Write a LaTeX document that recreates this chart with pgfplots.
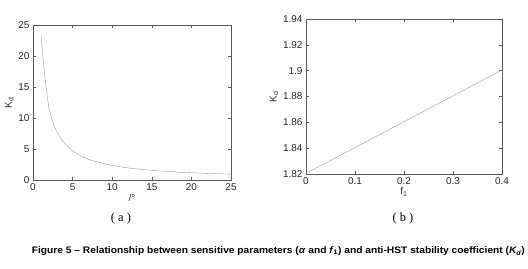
\documentclass[border=0pt]{standalone}
\usepackage{pgfplots}
\pgfplotsset{compat=1.18}
\usepackage{fontspec}
\setmainfont{Liberation Sans}
\newfontfamily\serifcap{Liberation Serif}
\begin{document}
\begin{tikzpicture}[x=1bp,y=1bp]
\path[use as bounding box] (0,0) rectangle (528,268);
\pgfplotsset{
  mystyle/.style={
    scale only axis,
    axis line style={gray!70!black, line width=0.4pt},
    tick style={gray!70!black, line width=0.4pt},
    tick align=inside,
    major tick length=3bp,
    ticklabel style={font=\fontsize{10}{11}\selectfont, text=black!85},
    label style={font=\fontsize{10}{11}\selectfont, text=black!85},
    /pgf/number format/assume math mode=true,
  }
}
\begin{axis}[mystyle,
  at={(33bp,88bp)}, anchor=south west,
  width=198bp, height=155bp,
  xmin=0, xmax=25, ymin=0, ymax=25,
  xtick={0,5,10,15,20,25}, ytick={0,5,10,15,20,25},
  xlabel={/°}, ylabel={K\textsubscript{d}},
  xlabel style={yshift=3bp},
  ylabel style={yshift=-2bp},
]
\addplot[no marks, line width=0.4pt, color=black!40] coordinates {
(1,23.4) (1.5,16.5) (2,11.6) (2.5,9.3) (3,7.8) (3.5,6.7) (4,5.9) (5,4.7) (6,3.9)
(7,3.35) (8,2.95) (9,2.62) (10,2.35) (11,2.13) (12,1.95) (13,1.8) (14,1.68)
(15,1.57) (16,1.47) (17,1.38) (18,1.3) (19,1.23) (20,1.17) (21,1.12) (22,1.07)
(23,1.02) (24,0.98) (25,0.94)
};
\end{axis}
\begin{axis}[mystyle,
  at={(306bp,94bp)}, anchor=south west,
  width=196bp, height=155bp,
  xmin=0, xmax=0.4, ymin=1.82, ymax=1.94,
  xtick={0,0.1,0.2,0.3,0.4}, ytick={1.82,1.84,1.86,1.88,1.9,1.92,1.94},
  yticklabel style={/pgf/number format/fixed, /pgf/number format/precision=2},
  xticklabel style={/pgf/number format/fixed},
  xlabel={f\textsubscript{1}}, ylabel={K\textsubscript{d}},
  xlabel style={yshift=4bp},
  ylabel style={yshift=-2bp},
]
\addplot[no marks, line width=0.4pt, color=black!40] coordinates {(0,1.8205) (0.1,1.8405) (0.2,1.8605) (0.3,1.8805) (0.4,1.9005)};
\end{axis}
\node[font=\serifcap\fontsize{12.5}{13}\selectfont] at (121,49) {( a )};
\node[font=\serifcap\fontsize{12.5}{13}\selectfont] at (403,49) {( b )};
\node[font=\bfseries\fontsize{9.5}{10}\selectfont, xscale=1.08, inner sep=0pt, anchor=east] at (525,17) {Figure 5 – Relationship between sensitive parameters (\textit{α} and \textit{f}\textsubscript{1}) and anti-HST stability coefficient (\textit{K\textsubscript{d}})};
\end{tikzpicture}
\end{document}
